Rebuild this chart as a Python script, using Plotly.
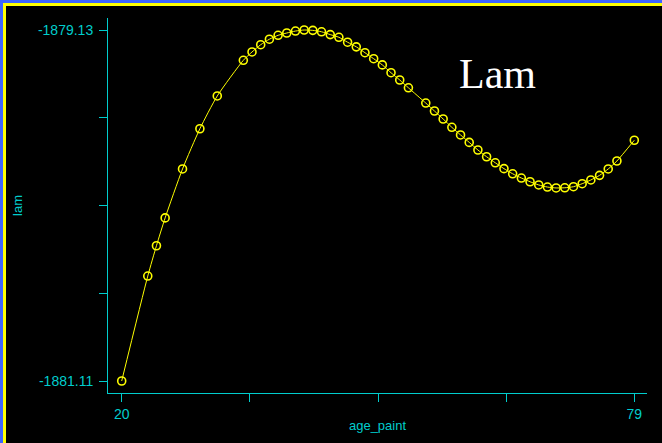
import plotly.graph_objects as go

# Profile of lam against age_paint
age_paint = [20, 23, 24, 25, 27, 29, 31, 34, 35, 36, 37, 38, 39, 40, 41, 42, 43,
             44, 45, 46, 47, 48, 49, 50, 51, 52, 53, 55, 56, 57, 58, 59, 60, 61,
             62, 63, 64, 65, 66, 67, 68, 69, 70, 71, 72, 73, 74, 75, 76, 77, 79]
lam = [-1881.110, -1880.518, -1880.347, -1880.190, -1879.914, -1879.687,
       -1879.502, -1879.301, -1879.254, -1879.213, -1879.182, -1879.160,
       -1879.147, -1879.136, -1879.130, -1879.132, -1879.140, -1879.156,
       -1879.171, -1879.199, -1879.225, -1879.258, -1879.292, -1879.327,
       -1879.371, -1879.412, -1879.456, -1879.542, -1879.587, -1879.632,
       -1879.679, -1879.722, -1879.764, -1879.807, -1879.845, -1879.879,
       -1879.912, -1879.941, -1879.965, -1879.986, -1880.004, -1880.016,
       -1880.021, -1880.020, -1880.014, -1879.997, -1879.976, -1879.950,
       -1879.914, -1879.869, -1879.752]

x_tickvals = [20, 34.75, 49.5, 64.25, 79]
x_ticktext = ["20", "", "", "", "79"]
y_tickvals = [-1881.11, -1880.615, -1880.12, -1879.625, -1879.13]
y_ticktext = ["-1881.11", "", "", "", "-1879.13"]

W, H = 662, 443
ML, MR, MT, MB = 108, 15, 18, 50
AXIS = "#00cdcd"
YELLOW = "#ffff00"
BLUE = "#3c64ff"


def px_x(p):
    return (p - ML) / (W - ML - MR)


def px_y(p):
    return (H - MB - p) / (H - MT - MB)


fig = go.Figure()
fig.add_trace(go.Scatter(
    x=age_paint, y=lam, mode="lines+markers",
    line=dict(color=YELLOW, width=1, shape="spline", smoothing=0.6),
    marker=dict(symbol="circle-open", size=8, color=YELLOW,
                line=dict(color=YELLOW, width=1.6)),
    hoverinfo="x+y", showlegend=False,
))

# Window frame strips along the top and left edges
frame = [
    (0, 0, 3, H, BLUE), (3, 3, 6, H, YELLOW),
    (0, 0, W, 3, BLUE), (3, 3, W, 6, YELLOW),
]
for x0, y0, x1, y1, c in frame:
    fig.add_shape(type="rect", xref="paper", yref="paper",
                  x0=px_x(x0), x1=px_x(x1), y0=px_y(y0), y1=px_y(y1),
                  fillcolor=c, line=dict(width=0), layer="above")

fig.add_annotation(text="Lam", xref="paper", yref="paper",
                   x=px_x(497), y=px_y(74), xanchor="center", yanchor="middle",
                   showarrow=False,
                   font=dict(family="Liberation Serif", size=42, color="white"))

axis_common = dict(
    showgrid=False, zeroline=False, showline=True, linecolor=AXIS, linewidth=1,
    ticks="outside", ticklen=8, tickwidth=1, tickcolor=AXIS,
    tickfont=dict(family="Liberation Sans", size=14, color=AXIS),
    automargin=False,
)

fig.update_layout(
    width=W, height=H,
    margin=dict(l=ML, r=MR, t=MT, b=MB),
    paper_bgcolor="black", plot_bgcolor="black",
    xaxis=dict(range=[18.423, 80.462], tickmode="array",
               tickvals=x_tickvals, ticktext=x_ticktext,
               title=dict(text="age_paint", standoff=0,
                          font=dict(family="Liberation Sans", size=13, color=AXIS)),
               **axis_common),
    yaxis=dict(range=[-1881.1777, -1879.0623], tickmode="array",
               tickvals=y_tickvals, ticktext=y_ticktext, ticklabelstandoff=3,
               title=dict(text="lam", standoff=12,
                          font=dict(family="Liberation Sans", size=13, color=AXIS)),
               **axis_common),
)

fig.write_html("out.html")
